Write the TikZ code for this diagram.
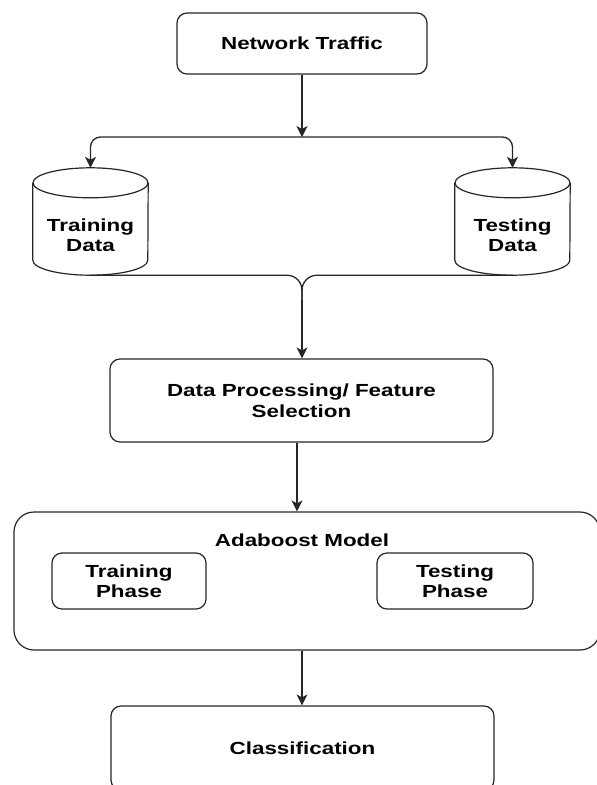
\documentclass[tikz,border=0pt]{standalone}
\usepackage{fontspec}
\newfontfamily\labfont[FakeStretch=1.28]{Liberation Sans}
\usetikzlibrary{arrows.meta,calc}
\begin{document}
\begin{tikzpicture}[x=1pt,y=1pt,
  lbl/.style={font=\labfont\bfseries\fontsize{17.5}{20.5}\selectfont, align=center, text=black},
  boxst/.style={draw=black!85, line width=1.2pt, rounded corners=10pt, inner sep=0pt},
  bigbox/.style={draw=black!85, line width=1.2pt, rounded corners=20pt, inner sep=0pt},
  cylst/.style={draw=black!85, line width=1.2pt},
  conn/.style={draw=black!85, line width=1.3pt},
  arr/.style={conn, -{Stealth[length=11pt,width=11pt,inset=3pt]}}
]
\clip (0,0) rectangle (597,-785);
\useasboundingbox (0,0) rectangle (597,-785);

% Network traffic
\node[boxst, lbl, minimum width=250pt, minimum height=61pt] (nt) at (302,-43.5) {Network Traffic};

% cylinders (invisible frame nodes + drawn shapes)
\node[minimum width=115pt, minimum height=107pt, inner sep=0pt] (trd) at (90.5,-221.5) {};
\node[minimum width=115pt, minimum height=107pt, inner sep=0pt] (ted) at (512.5,-221.5) {};
\foreach \c in {trd,ted}{
  \draw[cylst] ($(\c.north west)+(0,-15)$) -- ($(\c.south west)+(0,15)$)
     arc[start angle=180, end angle=360, x radius=57.5pt, y radius=15pt]
     -- ($(\c.north east)+(0,-15)$);
  \draw[cylst] ($(\c.north)+(0,-15)$) ellipse [x radius=57.5pt, y radius=15pt];
}
\node[lbl] (trdt) at (90.5,-235) {Training\\Data};
\node[lbl] (tedt) at (512.5,-235) {Testing\\Data};

% processing
\node[boxst, lbl, minimum width=383pt, minimum height=83pt] (dp) at (301.5,-400.5) {Data Processing/ Feature\\Selection};

% adaboost
\node[bigbox, minimum width=586pt, minimum height=138pt] (ada) at (307,-581) {};
\node[lbl] (adat) at (302,-540) {Adaboost Model};
\node[boxst, lbl, minimum width=154pt, minimum height=56pt] (trp) at (129,-581) {Training\\Phase};
\node[boxst, lbl, minimum width=156pt, minimum height=56pt] (tep) at (455,-581) {Testing\\Phase};

% classification
\node[boxst, lbl, minimum width=383pt, minimum height=84pt] (cls) at (302.5,-748) {Classification};

% connectors
\coordinate (split) at (302,-137);
\draw[arr] (nt.south) -- (split);
\draw[arr, rounded corners=10pt] (split) -| (trd.north);
\draw[arr, rounded corners=10pt] (split) -| (ted.north);

\coordinate (merge) at (302,-300);
\draw[conn, rounded corners=15pt] (trd.south) -| (merge);
\draw[conn, rounded corners=15pt] (ted.south) -| (merge);
\draw[arr] (merge) -- (merge |- dp.north);

\draw[arr] ([xshift=-4.5pt]dp.south) -- ([xshift=-4.5pt]dp.south |- ada.north);
\draw[arr] ([xshift=-0.5pt]ada.south -| cls.north) -- ([xshift=-0.5pt]cls.north);
\end{tikzpicture}
\end{document}
